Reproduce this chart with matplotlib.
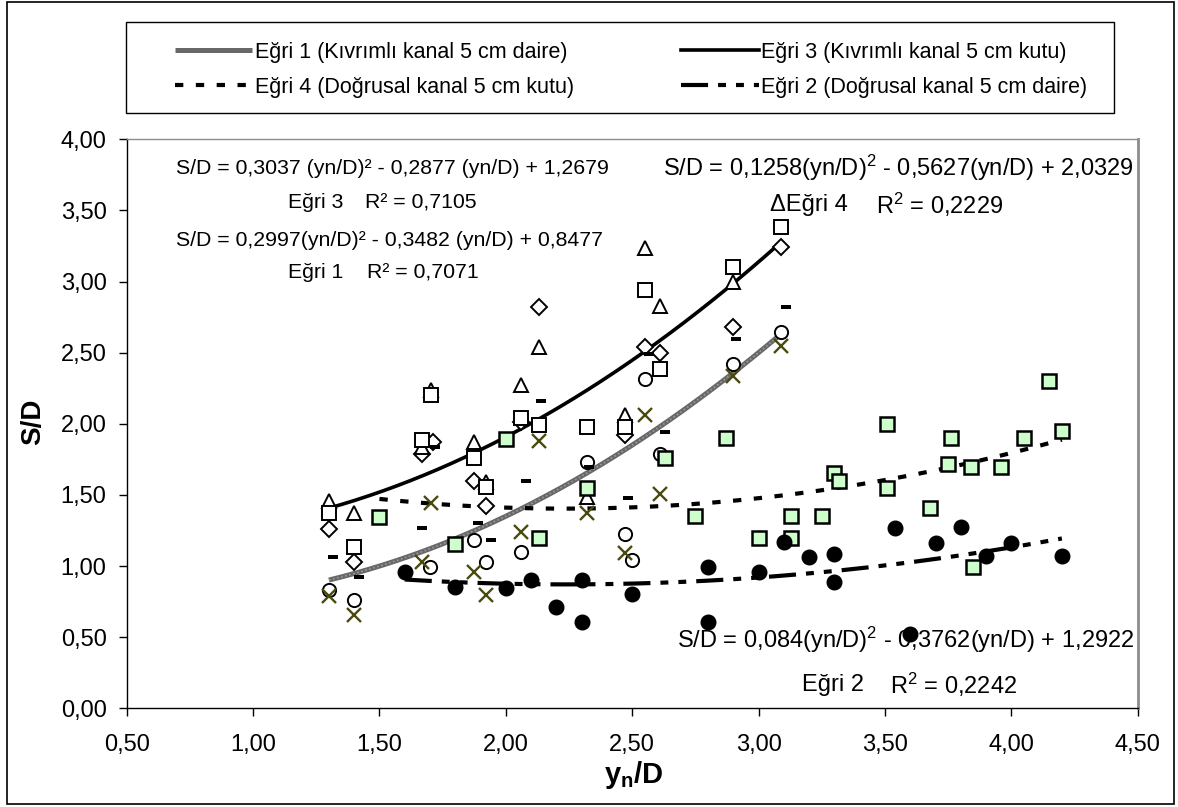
import numpy as np
import matplotlib
matplotlib.use("Agg")
import matplotlib.pyplot as plt
from matplotlib.patches import Rectangle

plt.rcParams['font.family'] = ['Liberation Sans', 'DejaVu Sans']
plt.rcParams['mathtext.fontset'] = 'custom'
plt.rcParams['mathtext.rm'] = 'Liberation Sans'
plt.rcParams['mathtext.it'] = 'Liberation Sans:italic'
plt.rcParams['mathtext.bf'] = 'Liberation Sans:bold'

# ---------------- data ----------------
# Kıvrımlı kanal (curved channel) series
diamond_x = [1.30, 1.40, 1.67, 1.71, 1.875, 1.92, 2.06, 2.13, 2.47, 2.55, 2.61, 2.90, 3.09]
diamond_y = [1.26, 1.03, 1.79, 1.87, 1.60, 1.42, 2.01, 2.82, 1.92, 2.54, 2.50, 2.68, 3.24]

triangle_x = [1.30, 1.40, 1.67, 1.705, 1.875, 1.92, 2.06, 2.13, 2.32, 2.47, 2.55, 2.61, 2.90]
triangle_y = [1.46, 1.37, 1.835, 2.24, 1.874, 1.593, 2.273, 2.542, 1.488, 2.062, 3.234, 2.828, 3.00]

square_x = [1.30, 1.40, 1.67, 1.705, 1.875, 1.92, 2.06, 2.13, 2.32, 2.47, 2.55, 2.61, 2.90, 3.09]
square_y = [1.375, 1.136, 1.886, 2.20, 1.757, 1.558, 2.039, 1.992, 1.98, 1.98, 2.94, 2.385, 3.104, 3.386]

circle_x = [1.30, 1.40, 1.70, 1.875, 1.92, 2.06, 2.32, 2.47, 2.50, 2.55, 2.61, 2.90, 3.09]
circle_y = [0.83, 0.761, 0.99, 1.183, 1.03, 1.101, 1.734, 1.223, 1.04, 2.315, 1.788, 2.42, 2.648]

cross_x = [1.30, 1.40, 1.67, 1.705, 1.875, 1.92, 2.06, 2.13, 2.32, 2.47, 2.55, 2.61, 2.90, 3.09]
cross_y = [0.79, 0.656, 1.031, 1.445, 0.96, 0.797, 1.242, 1.881, 1.371, 1.094, 2.062, 1.507, 2.338, 2.549]

dash_x = [1.315, 1.42, 1.67, 1.72, 1.89, 1.94, 2.08, 2.14, 2.33, 2.485, 2.565, 2.63, 2.91, 3.11]
dash_y = [1.066, 0.925, 1.265, 1.835, 1.305, 1.18, 1.598, 2.163, 1.699, 1.481, 2.489, 1.94, 2.596, 2.823]

# Doğrusal kanal (straight channel) series
kutu_x = [1.50, 1.80, 2.00, 2.13, 2.32, 2.63, 2.75, 2.87, 3.00, 3.13, 3.13, 3.25, 3.30, 3.32,
          3.51, 3.51, 3.68, 3.76, 3.75, 3.84, 3.85, 3.96, 4.05, 4.15, 4.20]
kutu_y = [1.347, 1.153, 1.893, 1.195, 1.547, 1.757, 1.352, 1.898, 1.195, 1.352, 1.195, 1.352, 1.656, 1.600,
          1.996, 1.547, 1.406, 1.898, 1.715, 1.699, 0.995, 1.699, 1.898, 2.303, 1.952]

daire_x = [1.60, 1.80, 2.00, 2.10, 2.20, 2.30, 2.30, 2.50, 2.80, 2.80, 3.00, 3.10, 3.20, 3.30, 3.30,
           3.54, 3.60, 3.70, 3.80, 3.90, 4.00, 4.20]
daire_y = [0.956, 0.855, 0.848, 0.902, 0.710, 0.902, 0.609, 0.801, 0.995, 0.609, 0.960, 1.171, 1.066,
           1.083, 0.886, 1.265, 0.522, 1.164, 1.277, 1.071, 1.164, 1.071]

# trend line coefficients (as printed on the chart)
egri1_coef = [0.2997, -0.3482, 0.8477]
egri3_coef = [0.3037, -0.2877, 1.2679]
egri4_coef = [0.1258, -0.5627, 2.0329]
egri2_coef = [0.084, -0.3762, 1.2922]

legend_labels = ["Eğri 1 (Kıvrımlı kanal 5 cm daire)", "Eğri 3 (Kıvrımlı kanal 5 cm kutu)",
                 "Eğri 4 (Doğrusal kanal 5 cm kutu)", "Eğri 2 (Doğrusal kanal 5 cm daire)"]
x_ticks = [0.5, 1.0, 1.5, 2.0, 2.5, 3.0, 3.5, 4.0, 4.5]
y_ticks = [0.0, 0.5, 1.0, 1.5, 2.0, 2.5, 3.0, 3.5, 4.0]

# ---------------- figure ----------------
W, H = 1178, 807
fig = plt.figure(figsize=(W / 100, H / 100), dpi=100)

def fx(px):
    return px / W

def fy(py):
    return 1 - py / H

ax_l, ax_r, ax_t, ax_b = 126.7, 1137.7, 139.3, 708.3
ax = fig.add_axes([fx(ax_l), fy(ax_b), fx(ax_r) - fx(ax_l), fy(ax_t) - fy(ax_b)])
ax.set_xlim(0.5, 4.5)
ax.set_ylim(0.0, 4.0)

# trend lines
all_k_x = diamond_x + triangle_x + square_x + circle_x + cross_x
xs13 = np.linspace(min(all_k_x), max(all_k_x), 200)
xs4 = np.linspace(min(kutu_x), max(kutu_x), 200)
xs2 = np.linspace(min(daire_x), max(daire_x), 200)

l1, = ax.plot(xs13, np.polyval(egri1_coef, xs13), color='#686868', lw=3.6, zorder=3,
              solid_capstyle='butt')
ax.plot(xs13, np.polyval(egri1_coef, xs13), color='#9a9a9a', lw=1.2, zorder=3,
        linestyle=(0, (1, 1.5)))
l3, = ax.plot(xs13, np.polyval(egri3_coef, xs13), color='black', lw=2.6, zorder=3)
l4, = ax.plot(xs4, np.polyval(egri4_coef, xs4), color='black', lw=3.0,
              linestyle=(0, (2.0, 3.0)), zorder=3, dash_capstyle='butt')
l2, = ax.plot(xs2, np.polyval(egri2_coef, xs2), color='black', lw=3.0,
              linestyle=(0, (6.5, 2.4, 1.9, 2.4, 1.9, 2.4)), zorder=3, dash_capstyle='butt')

# markers
mk = dict(linestyle='none', zorder=4)
ax.plot(diamond_x, diamond_y, marker='D', ms=8, mfc='white', mec='black', mew=1.4, **mk)
ax.plot(triangle_x, triangle_y, marker='^', ms=10.5, mfc='white', mec='black', mew=1.4, **mk)
ax.plot(square_x, square_y, marker='s', ms=9.5, mfc='white', mec='black', mew=1.4, **mk)
ax.plot(circle_x, circle_y, marker='o', ms=9.5, mfc='white', mec='black', mew=1.4, **mk)
ax.plot(cross_x, cross_y, marker='x', ms=9.5, color='#4a4a10', mew=1.7, **mk)
dash_marker = [(-1, -0.4), (1, -0.4), (1, 0.4), (-1, 0.4), (-1, -0.4)]
ax.plot(dash_x, dash_y, marker=dash_marker, ms=7.5, color='black', mew=0, **mk)
ax.plot(kutu_x, kutu_y, marker='s', ms=9.5, mfc='#ccffcc', mec='black', mew=1.8, **mk)
ax.plot(daire_x, daire_y, marker='o', ms=10.5, mfc='black', mec='black', **mk)

# axes styling
ax.set_xticks(x_ticks)
ax.set_yticks(y_ticks)
ax.set_xticklabels([f"{v:.2f}".replace('.', ',') for v in x_ticks])
ax.set_yticklabels([f"{v:.2f}".replace('.', ',') for v in y_ticks])
ax.tick_params(direction='out', length=5.5, width=1, labelsize=17, colors='black')
ax.tick_params(axis='y', pad=9)
ax.tick_params(axis='x', pad=13)
for s in ['left', 'bottom']:
    ax.spines[s].set_color('black')
    ax.spines[s].set_linewidth(1.0)
ax.spines['top'].set_color('#8c8c8c')
ax.spines['top'].set_linewidth(1.0)
ax.spines['right'].set_color('#8c8c8c')
ax.spines['right'].set_linewidth(2.0)

fig.text(fx(33), fy(422), "S/D", rotation=90, fontsize=20, fontweight='bold',
         ha='center', va='center')
fig.text(fx(634), fy(775), r"$\mathbf{y_n/D}$", fontsize=21, ha='center', va='center')

# annotations (left group)
fs = 15.3
fig.text(fx(392), fy(168), "S/D = 0,3037 (yn/D)² - 0,2877 (yn/D) + 1,2679", fontsize=fs,
         ha='center', va='center')
fig.text(fx(288), fy(203), "Eğri 3", fontsize=fs, ha='left', va='center')
fig.text(fx(365), fy(203), "R² = 0,7105", fontsize=fs, ha='left', va='center')
fig.text(fx(390), fy(240), "S/D = 0,2997(yn/D)² - 0,3482 (yn/D) + 0,8477", fontsize=fs,
         ha='center', va='center')
fig.text(fx(288), fy(273), "Eğri 1", fontsize=fs, ha='left', va='center')
fig.text(fx(367), fy(273), "R² = 0,7071", fontsize=fs, ha='left', va='center')

# annotations (right group)
fs2 = 17
fig.text(fx(1134), fy(168), r"S/D = 0,1258(yn/D)$^2$ - 0,5627(yn/D) + 2,0329", fontsize=fs2,
         ha='right', va='center')
fig.text(fx(770), fy(205), "ΔEğri 4", fontsize=fs2, ha='left', va='center')
fig.text(fx(876), fy(205), r"R$^2$ = 0,2229", fontsize=fs2, ha='left', va='center')

fig.text(fx(1134), fy(640), r"S/D = 0,084(yn/D)$^2$ - 0,3762(yn/D) + 1,2922", fontsize=fs2,
         ha='right', va='center')
fig.text(fx(802), fy(685), "Eğri 2", fontsize=fs2, ha='left', va='center')
fig.text(fx(890), fy(685), r"R$^2$ = 0,2242", fontsize=fs2, ha='left', va='center')

# legend
leg_handles = [l1, l4, l3, l2]
leg_labels = [legend_labels[0], legend_labels[2], legend_labels[1], legend_labels[3]]
fig.add_artist(Rectangle((fx(126), fy(113)), fx(1114) - fx(126), fy(22) - fy(113),
                         transform=fig.transFigure, fill=False, ec='black', lw=1.0))
leg = fig.legend(leg_handles, leg_labels, ncol=2, loc='center left',
                 bbox_to_anchor=(fx(175), fy(70)), frameon=False, fontsize=15.5,
                 handlelength=3.6, handletextpad=0.1, columnspacing=5.0,
                 labelspacing=0.65, borderpad=0, borderaxespad=0)

# outer border
fig.add_artist(Rectangle((fx(7), fy(804)), fx(1174) - fx(7), fy(2) - fy(804),
                         transform=fig.transFigure, fill=False, ec='black', lw=1.2))

fig.savefig("out.png", dpi=100)
